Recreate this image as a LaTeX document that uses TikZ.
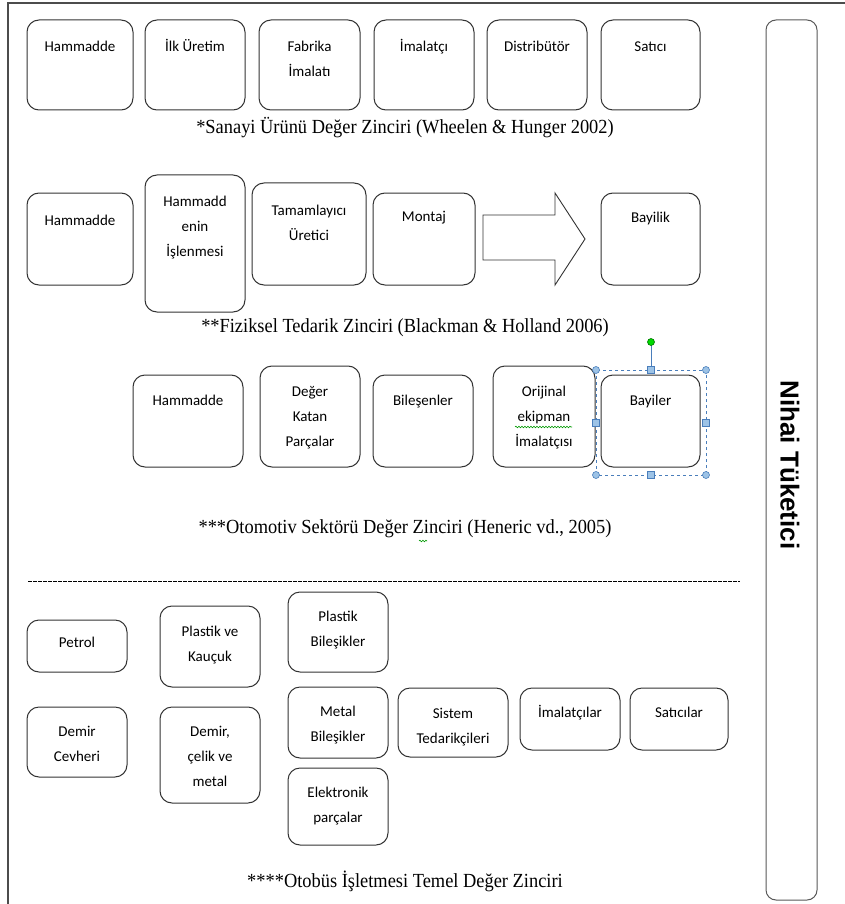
\documentclass[tikz,border=0pt]{standalone}
\usepackage{fontspec}
\setmainfont{Liberation Serif}
\newfontfamily\boxfont{Carlito}
\newfontfamily\sidefont{Liberation Sans}
\usepackage{xcolor}
\usetikzlibrary{positioning,decorations.pathmorphing}
\definecolor{selblue}{HTML}{4A7EBB}
\definecolor{selfill}{HTML}{9DC3E6}

\begin{document}
\begin{tikzpicture}[x=1pt, y=-1pt,
    chain/.style={draw=black!80, line width=1pt, rounded corners=12pt},
    lbl/.style={anchor=north, inner sep=0pt, align=center,
      font=\boxfont\fontsize{15}{25}\selectfont, execute at begin node=\strut},
    caption/.style={inner sep=0pt, font=\fontsize{20}{24}\selectfont},
    knob/.style={draw=selblue, fill=selfill, line width=0.6pt}]
    \fill[white] (0,0) rectangle (845,904);
    \useasboundingbox (0,0) rectangle (845,904);
    \draw[black!70, line width=1.2pt] (8,904) -- (8,3) -- (845,3);

    \draw[chain] (27,20) rectangle (133,110);
    \draw[chain] (145,20) rectangle (245,110);
    \draw[chain] (259,20) rectangle (360,110);
    \draw[chain] (374,20) rectangle (474,110);
    \draw[chain] (487,20) rectangle (587,110);
    \draw[chain] (601,20) rectangle (700,110);
    \node[lbl] (r1a) at (80,33.5) {Hammadde};
    \node[lbl] (r1b) at (195,33.5) {İlk Üretim};
    \node[lbl] (r1c) at (309.5,33.5) {\strut Fabrika\\İmalatı};
    \node[lbl] (r1d) at (424,33.5) {İmalatçı};
    \node[lbl] (r1e) at (537,33.5) {Distribütör};
    \node[lbl] (r1f) at (650.5,33.5) {Satıcı};
    \node[caption] (cap1) at (405,128) {\scalebox{0.92}[1]{*Sanayi Ürünü Değer Zinciri (Wheelen \& Hunger 2002)}};

    \draw[chain] (27,193) rectangle (133,285);
    \draw[chain] (145,175) rectangle (245,312);
    \draw[chain] (252,183) rectangle (366,285);
    \draw[chain] (373,193) rectangle (475,285);
    \draw[chain] (601,193) rectangle (700,285);
    \draw[chain, rounded corners=0pt, line width=0.9pt] (483,215) -- (555,215) -- (555,193)
        -- (585,239) -- (555,285) -- (555,260) -- (483,260) -- cycle;
    \node[lbl] (r2a) at (80,208) {Hammadde};
    \node[lbl] (r2b) at (195,188.5) {\strut Hammadd\\enin\\İşlenmesi};
    \node[lbl] (r2c) at (309,198) {\strut Tamamlayıcı\\Üretici};
    \node[lbl] (r2d) at (424,204) {Montaj};
    \node[lbl] (r2e) at (650.5,205) {Bayilik};
    \node[caption] (cap2) at (405,328) {\scalebox{0.92}[1]{**Fiziksel Tedarik Zinciri (Blackman \& Holland 2006)}};

    \draw[chain] (133,375) rectangle (243,467);
    \draw[chain] (260,366) rectangle (360,467);
    \draw[chain] (373,375) rectangle (473,467);
    \draw[chain] (493,366) rectangle (595,467);
    \draw[chain] (601,375) rectangle (700,467);
    \node[lbl] (r3a) at (188,388) {Hammadde};
    \node[lbl] (r3b) at (310,379) {\strut Değer\\Katan\\Parçalar};
    \node[lbl] (r3c) at (423,388) {Bileşenler};
    \node[lbl] (r3d) at (544,379) {\strut Orijinal\\ekipman\\İmalatçısı};
    \node[lbl] (r3e) at (650.5,388) {Bayiler};
    \draw[green!60!black, line width=0.6pt, decorate,
        decoration={snake, amplitude=0.8pt, segment length=3pt}] (515,427) -- (572,427);
    \draw[selblue, dashed, line width=0.6pt] (596,370) rectangle (706,475);
    \draw[selblue, line width=0.6pt] (651,370) -- (651,342);
    \foreach \x/\y in {596/370, 706/370, 596/475, 706/475}
        \draw[knob] (\x,\y) circle (3.5pt);
    \foreach \x/\y in {651/370, 651/475, 596/422.5, 706/422.5}
        \draw[knob] (\x-3.5,\y-3.5) rectangle (\x+3.5,\y+3.5);
    \draw[draw=green!45!black, fill=green!85!black, line width=0.6pt] (651,342) circle (3.5pt);
    \node[caption] (cap3) at (405,529) {\scalebox{0.92}[1]{***Otomotiv Sektörü Değer Zinciri (Heneric vd., 2005)}};
    \draw[green!60!black, line width=0.6pt, decorate,
        decoration={snake, amplitude=0.8pt, segment length=3pt}] (419,541) -- (427,541);

    \draw[dash pattern=on 3.5pt off 1.5pt, line width=0.8pt] (28,581) -- (740,581);

    \draw[chain] (27,620) rectangle (127,672);
    \draw[chain] (27,707) rectangle (127,777);
    \draw[chain] (160,606) rectangle (260,687);
    \draw[chain] (160,707) rectangle (260,803);
    \draw[chain] (288,592) rectangle (388,672);
    \draw[chain] (288,687) rectangle (388,758);
    \draw[chain] (288,768) rectangle (388,845);
    \draw[chain] (398,688) rectangle (508,757);
    \draw[chain] (520,688) rectangle (620,750);
    \draw[chain] (630,688) rectangle (728,750);
    \node[lbl] (r4a) at (77,630) {Petrol};
    \node[lbl] (r4b) at (77,719) {\strut Demir\\Cevheri};
    \node[lbl] (r4c) at (210,619) {\strut Plastik ve\\Kauçuk};
    \node[lbl] (r4d) at (210,719) {\strut Demir,\\çelik ve\\metal};
    \node[lbl] (r4e) at (338,604) {\strut Plastik\\Bileşikler};
    \node[lbl] (r4f) at (338,699) {\strut Metal\\Bileşikler};
    \node[lbl] (r4g) at (338,780) {\strut Elektronik\\parçalar};
    \node[lbl] (r4h) at (453,701) {\strut Sistem\\Tedarikçileri};
    \node[lbl] (r4i) at (570,700) {İmalatçılar};
    \node[lbl] (r4j) at (679,700) {Satıcılar};
    \node[caption] (cap4) at (405,881) {\scalebox{0.92}[1]{****Otobüs İşletmesi Temel Değer Zinciri}};

    \draw[chain, draw=black!65, rounded corners=10pt] (766,20) rectangle (817,900);
    \node[rotate=-90, inner sep=0pt, font=\sidefont\bfseries\fontsize{26}{30}\selectfont]
        (nihai) at (790,465) {Nihai Tüketici};
\end{tikzpicture}
\end{document}
